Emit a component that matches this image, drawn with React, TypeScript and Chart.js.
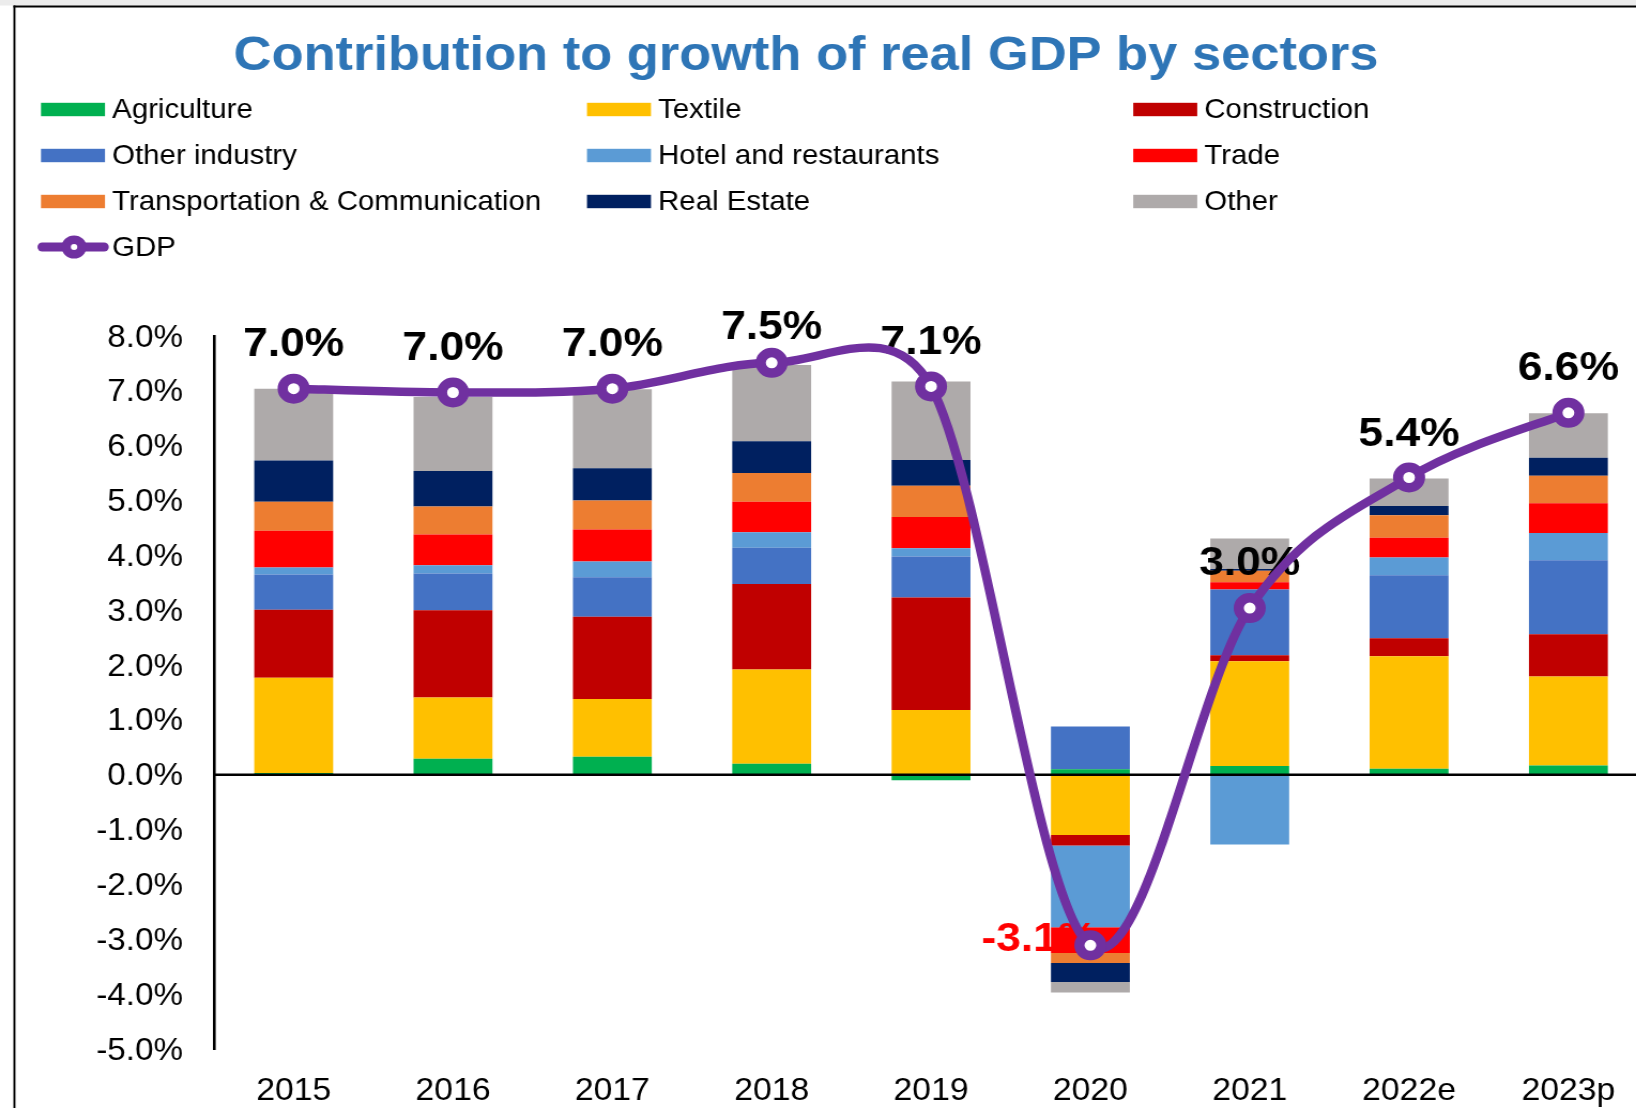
import React, { useEffect, useRef } from "react";
import { Chart, registerables } from "chart.js";

Chart.register(...registerables);

// ---------- data ----------
const CATEGORIES = ["2015", "2016", "2017", "2018", "2019", "2020", "2021", "2022e", "2023p"];

const AGRICULTURE = [0.03, 0.29, 0.33, 0.2, -0.1, 0.1, 0.16, 0.11, 0.17];
const TEXTILE = [1.74, 1.12, 1.05, 1.72, 1.18, -1.1, 1.91, 2.05, 1.62];
const CONSTRUCTION = [1.24, 1.59, 1.5, 1.56, 2.05, -0.19, 0.11, 0.33, 0.77];
const OTHER_INDUSTRY = [0.64, 0.67, 0.72, 0.66, 0.75, 0.78, 1.2, 1.15, 1.35];
const HOTEL = [0.13, 0.15, 0.29, 0.28, 0.15, -1.49, -1.27, 0.32, 0.5];
const TRADE = [0.67, 0.56, 0.58, 0.56, 0.57, -0.47, 0.13, 0.36, 0.54];
const TRANSPORT = [0.53, 0.51, 0.53, 0.52, 0.57, -0.18, 0.21, 0.41, 0.5];
const REAL_ESTATE = [0.75, 0.65, 0.59, 0.58, 0.47, -0.35, 0.03, 0.17, 0.33];
const OTHER = [1.31, 1.35, 1.44, 1.39, 1.43, -0.19, 0.56, 0.5, 0.81];
const GDP = [7.04, 6.97, 7.04, 7.51, 7.08, -3.11, 3.04, 5.42, 6.6];

const SERIES_NAMES = [
  "Agriculture",
  "Textile",
  "Construction",
  "Other industry",
  "Hotel and restaurants",
  "Trade",
  "Transportation & Communication",
  "Real Estate",
  "Other",
];
const SERIES_VALUES = [
  AGRICULTURE,
  TEXTILE,
  CONSTRUCTION,
  OTHER_INDUSTRY,
  HOTEL,
  TRADE,
  TRANSPORT,
  REAL_ESTATE,
  OTHER,
];
const SERIES_COLORS = [
  "#00B050",
  "#FFC000",
  "#C00000",
  "#4472C4",
  "#5B9BD5",
  "#FF0000",
  "#ED7D31",
  "#002060",
  "#AEAAAA",
];
const GDP_NAME = "GDP";
const GDP_COLOR = "#7030A0";
const TITLE = "Contribution to growth of real GDP by sectors";

const Y_MIN = -5;
const Y_MAX = 8;
const Y_STEP = 1;

// ---------- styling ----------
const FONT = "'Liberation Sans', Arial, Helvetica, sans-serif";
const SX = 1.07; // horizontal stretch of the whole picture
const W = 1560; // unstretched canvas width
const H = 1108;
const LABEL_LIFT = [45, 45, 45, 36, 45, 0, 45, 44, 45];
const SMOOTH = 1 / 6; // spreadsheet-style smoothing factor

const LEGEND_COL_MARKER = [38.3, 548.6, 1059.1];
const LEGEND_COL_TEXT = [104.8, 615, 1125.5];
const LEGEND_ROW_CENTER = [109.5, 155.5, 201.5, 247];
const LEGEND_ROW_BASELINE = [118.3, 164.3, 210.3, 256.3];

const framePlugin = {
  id: "frame",
  beforeDraw(chart: any) {
    const ctx = chart.ctx;
    ctx.save();
    ctx.fillStyle = "#ffffff";
    ctx.fillRect(0, 0, W, H);
    ctx.fillStyle = "#ececec";
    ctx.fillRect(0, 0, W, 5.5);
    ctx.fillStyle = "#000000";
    ctx.fillRect(12.5, 5.5, W, 2);
    ctx.fillRect(12.5, 5.5, 1.9, H);
    ctx.restore();
  },
  afterDraw(chart: any) {
    const ctx = chart.ctx;
    ctx.save();
    // title
    ctx.font = `bold 49px ${FONT}`;
    ctx.fillStyle = "#2E75B6";
    ctx.textAlign = "center";
    ctx.textBaseline = "alphabetic";
    ctx.fillText(TITLE, 753.3, 70);

    // legend
    ctx.font = `27.5px ${FONT}`;
    ctx.textAlign = "left";
    SERIES_NAMES.forEach((name, i) => {
      const col = i % 3;
      const row = Math.floor(i / 3);
      ctx.fillStyle = SERIES_COLORS[i];
      ctx.fillRect(LEGEND_COL_MARKER[col], LEGEND_ROW_CENTER[row] - 6.7, 59.8, 13.4);
      ctx.fillStyle = "#000000";
      ctx.fillText(name, LEGEND_COL_TEXT[col], LEGEND_ROW_BASELINE[row]);
    });
    const gy = LEGEND_ROW_CENTER[3];
    ctx.strokeStyle = GDP_COLOR;
    ctx.lineCap = "round";
    ctx.lineWidth = 9;
    ctx.beginPath();
    ctx.moveTo(39.5, gy);
    ctx.lineTo(97.2, gy);
    ctx.stroke();
    ctx.beginPath();
    ctx.arc(69.2, gy, 7.3, 0, Math.PI * 2);
    ctx.fillStyle = "#ffffff";
    ctx.fill();
    ctx.lineWidth = 8.6;
    ctx.stroke();
    ctx.fillStyle = "#000000";
    ctx.fillText(GDP_NAME, LEGEND_COL_TEXT[0], LEGEND_ROW_BASELINE[3]);
    ctx.restore();
  },
};

// spreadsheet-like smoothing: control point distance = 1/6 of the neighbour chord,
// limited to half of the segment length
function setSmoothControlPoints(meta: any) {
  const pts = meta.data;
  const n = pts.length;
  const P = pts.map((p: any) => ({ x: p.x * SX, y: p.y }));
  for (let i = 0; i < n; i++) {
    const prev = P[Math.max(0, i - 1)];
    const next = P[Math.min(n - 1, i + 1)];
    const tx = next.x - prev.x;
    const ty = next.y - prev.y;
    const d02 = Math.hypot(tx, ty) || 1;
    const cur = P[i];
    if (i > 0) {
      const dIn = Math.hypot(cur.x - P[i - 1].x, cur.y - P[i - 1].y);
      const f = Math.min(SMOOTH, dIn / (2 * d02));
      pts[i].cp1x = (cur.x - f * tx) / SX;
      pts[i].cp1y = cur.y - f * ty;
    } else {
      pts[i].cp1x = pts[i].x;
      pts[i].cp1y = pts[i].y;
    }
    if (i < n - 1) {
      const dOut = Math.hypot(P[i + 1].x - cur.x, P[i + 1].y - cur.y);
      const f = Math.min(SMOOTH, dOut / (2 * d02));
      pts[i].cp2x = (cur.x + f * tx) / SX;
      pts[i].cp2y = cur.y + f * ty;
    } else {
      pts[i].cp2x = pts[i].x;
      pts[i].cp2y = pts[i].y;
    }
  }
  if (meta.dataset) {
    meta.dataset._pointsUpdated = true;
    meta.dataset._path = undefined;
  }
}

const labelPlugin = {
  id: "gdpLabels",
  beforeDatasetDraw(chart: any, args: any) {
    if (args.index !== 0) return;
    const ctx = chart.ctx;
    const yScale = chart.scales.y;
    const area = chart.chartArea;
    const meta = chart.getDatasetMeta(0);
    setSmoothControlPoints(meta);

    ctx.save();
    // zero line on top of bars, below the GDP line
    const y0 = yScale.getPixelForValue(0);
    ctx.strokeStyle = "#000000";
    ctx.lineWidth = 2.6;
    ctx.beginPath();
    ctx.moveTo(area.left, y0);
    ctx.lineTo(W, y0);
    ctx.stroke();

    ctx.font = `bold 41.5px ${FONT}`;
    ctx.textBaseline = "middle";
    meta.data.forEach((pt: any, i: number) => {
      const v = GDP[i];
      const text = v.toFixed(1) + "%";
      if (v < 0) {
        ctx.fillStyle = "#FF0000";
        ctx.textAlign = "right";
        ctx.fillText(text, pt.x + 6.5, pt.y - 6);
      } else {
        ctx.fillStyle = "#000000";
        ctx.textAlign = "center";
        ctx.fillText(text, pt.x, pt.y - LABEL_LIFT[i] + 1);
      }
    });
    ctx.restore();
  },
};

export default function App() {
  const canvasRef = useRef<HTMLCanvasElement | null>(null);

  useEffect(() => {
    const canvas = canvasRef.current;
    if (!canvas) return;

    const barSets = SERIES_NAMES.map((name, i) => ({
      type: "bar" as const,
      label: name,
      data: SERIES_VALUES[i],
      backgroundColor: SERIES_COLORS[i],
      borderWidth: 0,
      stack: "sectors",
      barPercentage: 0.495,
      categoryPercentage: 1,
    }));

    const chart = new Chart(canvas, {
      type: "bar",
      data: {
        labels: CATEGORIES,
        datasets: [
          {
            type: "line" as const,
            label: GDP_NAME,
            data: GDP,
            borderColor: GDP_COLOR,
            borderWidth: 8.5,
            backgroundColor: "#ffffff",
            pointBackgroundColor: "#ffffff",
            pointBorderColor: GDP_COLOR,
            pointBorderWidth: 9.5,
            pointRadius: 10.25,
            pointHoverRadius: 10.25,
            tension: 0.4,
            fill: false,
            stack: "gdp",
          } as any,
          ...barSets,
        ],
      },
      options: {
        responsive: false,
        maintainAspectRatio: false,
        animation: false,
        events: [],
        layout: { padding: { top: 336, right: 18.4, bottom: 0, left: 0 } },
        plugins: {
          legend: { display: false },
          title: { display: false },
          tooltip: { enabled: false },
        },
        scales: {
          x: {
            stacked: true,
            offset: true,
            grid: { display: false, drawTicks: false },
            border: { display: false },
            ticks: {
              color: "#000000",
              font: { family: FONT, size: 31.5 },
              padding: 23,
              autoSkip: false,
              maxRotation: 0,
              minRotation: 0,
            },
            afterFit: (s: any) => {
              s.height = 59;
            },
          },
          y: {
            stacked: true,
            min: Y_MIN,
            max: Y_MAX,
            grid: { display: false, drawTicks: false },
            border: { display: true, color: "#000000", width: 2.6 },
            ticks: {
              stepSize: Y_STEP,
              maxTicksLimit: 30,
              autoSkip: false,
              color: "#000000",
              font: { family: FONT, size: 31 },
              padding: 29,
              labelOffset: 2,
              callback: (v: any) => Number(v).toFixed(1) + "%",
            },
            afterFit: (s: any) => {
              s.width = 200;
            },
          },
        },
      } as any,
      plugins: [framePlugin, labelPlugin],
    });

    return () => {
      chart.destroy();
    };
  }, []);

  return (
    <div
      style={{
        position: "fixed",
        left: 0,
        top: 0,
        width: 1636,
        height: 1108,
        overflow: "hidden",
        background: "#ffffff",
      }}
    >
      <div
        style={{
          width: W,
          height: H,
          transform: `scaleX(${SX})`,
          transformOrigin: "0 0",
        }}
      >
        <canvas
          ref={canvasRef}
          width={W}
          height={H}
          style={{ width: W, height: H, display: "block" }}
        />
      </div>
    </div>
  );
}
